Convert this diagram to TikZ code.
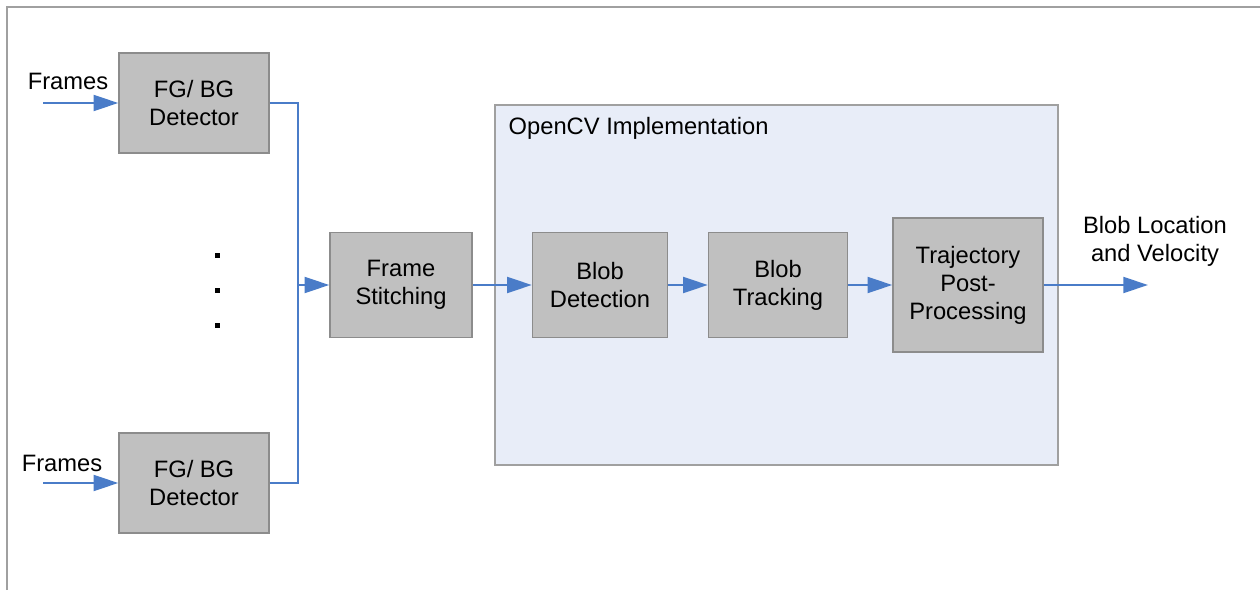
\documentclass[tikz,border=0pt]{standalone}
\usepackage{fontspec}
\setmainfont{Liberation Sans}
\usetikzlibrary{positioning,arrows.meta}

\definecolor{boxgray}{HTML}{C0C0C0}
\definecolor{boxedge}{HTML}{8C8C8C}
\definecolor{flowblue}{HTML}{4A7CC8}
\definecolor{cvfill}{HTML}{E8EDF8}
\definecolor{frameedge}{HTML}{A0A0A0}

\begin{document}
\begin{tikzpicture}[
  block/.style={draw=boxedge,fill=boxgray,line width=0.8pt,align=center,
                font=\fontsize{13.5}{16}\selectfont,inner sep=2pt},
  lbl/.style={align=center,font=\fontsize{13.5}{16}\selectfont},
  link/.style={draw=flowblue,line width=1.4pt},
  flow/.style={link,-{Triangle[length=14pt,width=9pt]}},
]
\useasboundingbox (0,0) rectangle (25.2,11.8);

% outer frame (top and left edges only)
\draw[frameedge,line width=0.8pt] (0.14,0) -- (0.14,11.66) -- (25.2,11.66);

% OpenCV region
\node[draw=frameedge,fill=cvfill,line width=0.8pt,minimum width=11.26cm,
      minimum height=7.2cm,inner sep=0pt] (cv) at (15.53,6.1) {};
\node[lbl,anchor=west] (cvlabel) at (10.05,9.24) {OpenCV Implementation};

% Detectors
\node[block,minimum width=3.0cm,minimum height=2.0cm] (fgtop) at (3.88,9.74)
  {FG/ BG\\Detector};
\node[block,minimum width=3.0cm,minimum height=2.0cm] (fgbot) at (3.88,2.14)
  {FG/ BG\\Detector};
\node[lbl] (frtop) at (1.36,10.18) {Frames};
\node[lbl] (frbot) at (1.24,2.54) {Frames};
\coordinate (intop) at (0.86,9.74);
\coordinate (inbot) at (0.86,2.14);

% dots
\foreach \y in {6.64,5.94,5.24}
  \fill (4.30,\y) rectangle (4.40,\y+0.1);

% pipeline
\coordinate (join) at (5.96,6.1);
\node[block,minimum width=2.84cm,minimum height=2.1cm] (stitch) at (8.02,6.1)
  {Frame\\Stitching};
\node[block,minimum width=2.7cm,minimum height=2.1cm] (blobdet) at (12.0,6.1)
  {Blob\\Detection};
\node[block,minimum width=2.78cm,minimum height=2.1cm] (blobtrk) at (15.56,6.1)
  {Blob\\Tracking};
\node[block,minimum width=3.0cm,minimum height=2.68cm] (traj) at (19.36,6.1)
  {Trajectory\\Post-\\Processing};
\coordinate (out) at (22.96,6.1);
\node[lbl] (outlabel) at (23.1,6.98) {Blob Location\\and Velocity};

% connectors
\draw[flow] (intop) -- (fgtop);
\draw[flow] (inbot) -- (fgbot);
\draw[link] (fgtop.east) -| (join);
\draw[link] (fgbot.east) -| (join);
\draw[flow] (join) -- (stitch);
\draw[flow] (stitch) -- (blobdet);
\draw[flow] (blobdet) -- (blobtrk);
\draw[flow] (blobtrk) -- (traj);
\draw[flow] (traj) -- (out);

\end{tikzpicture}
\end{document}
